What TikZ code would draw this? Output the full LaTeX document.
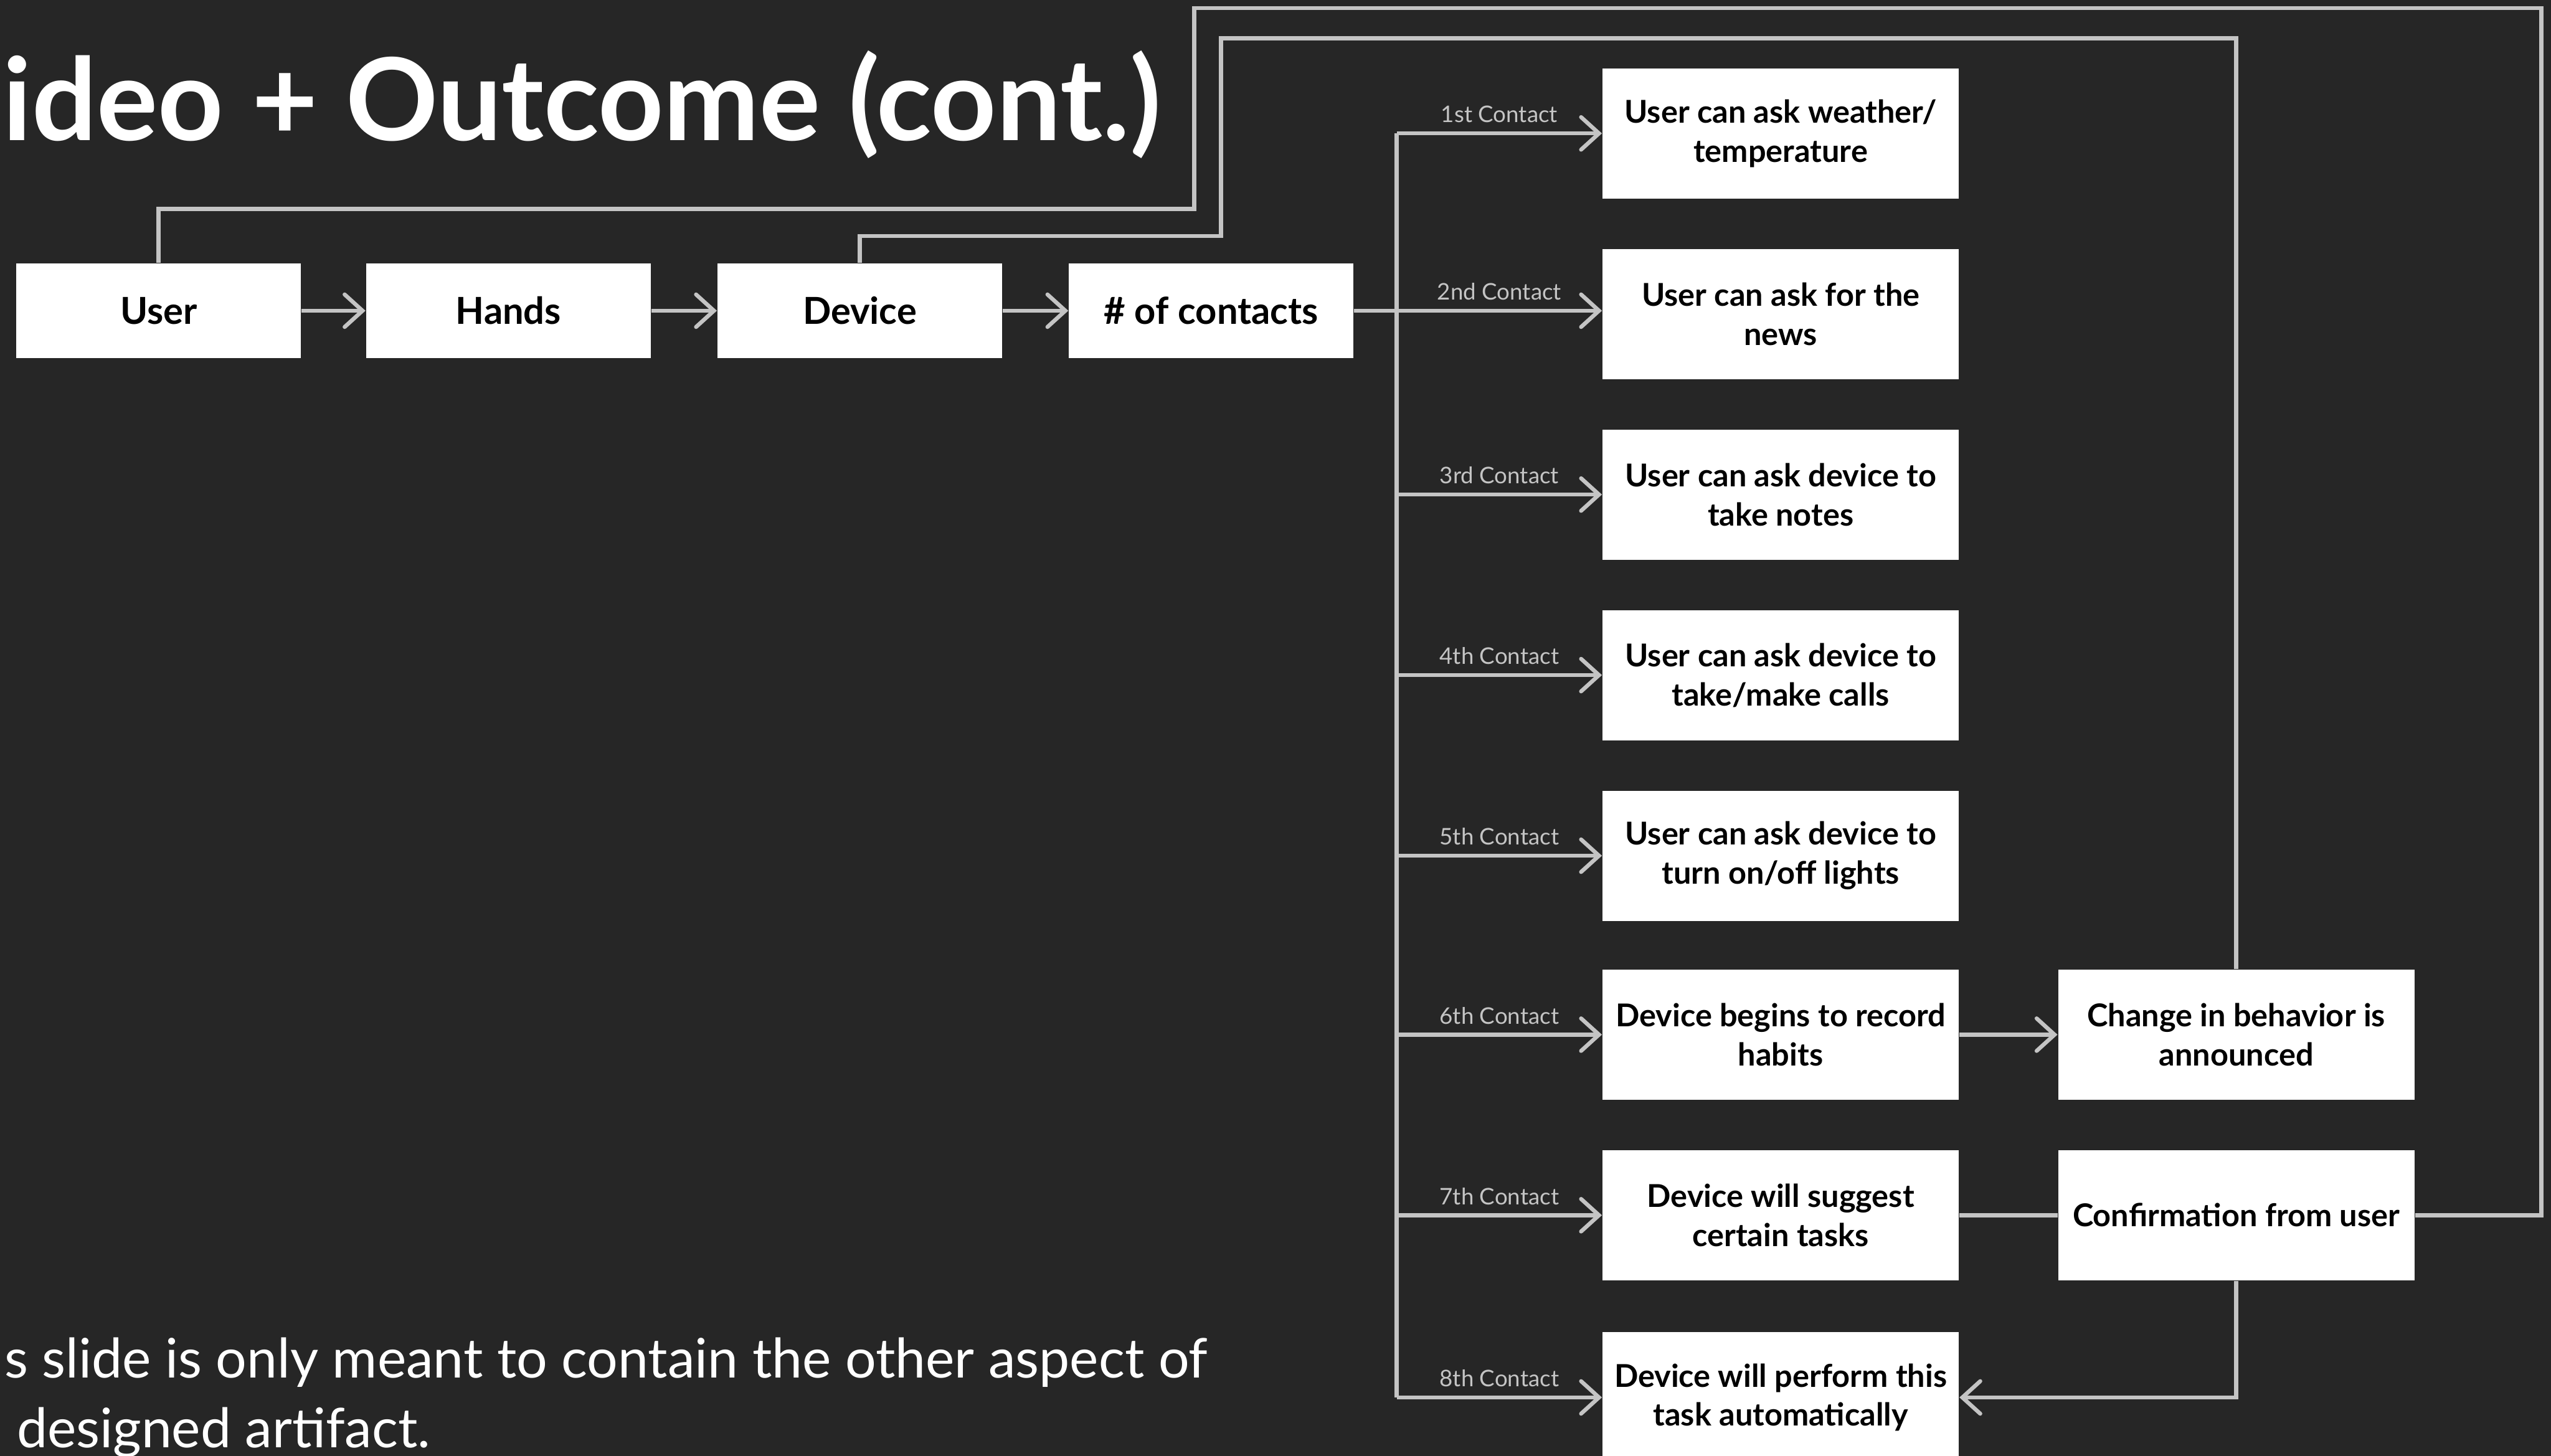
\documentclass[tikz,border=0pt]{standalone}
\usepackage{fontspec}
\setmainfont{Lato}
\usetikzlibrary{arrows.meta}
\definecolor{slidebg}{HTML}{262626}
\definecolor{wire}{HTML}{C4C4C4}

\tikzset{
  box/.style={rectangle, fill=white, text=black, align=center, inner sep=0pt,
    font=\bfseries\fontsize{13}{14.5}\selectfont, minimum width=3.5cm, minimum height=1.16cm},
  bigbox/.style={box, font=\bfseries\fontsize{11}{13.7}\selectfont, minimum width=4.38cm, minimum height=1.6cm},
  link/.style={draw=wire, line width=1.4pt},
  contact/.style={midway, above, inner sep=3pt, text=wire, font=\fontsize{8}{9}\selectfont},
  slidetext/.style={anchor=base west, inner sep=0pt, text=white},
}

\begin{document}
\begin{tikzpicture}[>={Straight Barb[length=0.22cm,width=0.4cm,line cap=round]}]
  \useasboundingbox (0,0) rectangle (31.36,-17.9);
  \fill[slidebg] (0,0) rectangle (31.36,-17.9);

  \node[slidetext, font=\bfseries\fontsize{40}{46}\selectfont] (title) at (0.03,-1.73) {ideo + Outcome (cont.)};

  % top row
  \node[box] (user)     at ( 1.95,-3.82) {User};
  \node[box] (hands)    at ( 6.25,-3.82) {Hands};
  \node[box] (device)   at (10.57,-3.82) {Device};
  \node[box] (contacts) at (14.89,-3.82) {\# of contacts};
  \draw[link,->] (user) -- (hands);
  \draw[link,->] (hands) -- (device);
  \draw[link,->] (device) -- (contacts);

  % one box per contact
  \node[bigbox] (c1) at (21.89, -1.64) {User can ask weather/\\temperature};
  \node[bigbox] (c2) at (21.89, -3.86) {User can ask for the\\news};
  \node[bigbox] (c3) at (21.89, -6.08) {User can ask device to\\take notes};
  \node[bigbox] (c4) at (21.89, -8.30) {User can ask device to\\take/make calls};
  \node[bigbox] (c5) at (21.89,-10.52) {User can ask device to\\turn on/off lights};
  \node[bigbox] (c6) at (21.89,-12.72) {Device begins to record\\habits};
  \node[bigbox] (c7) at (21.89,-14.94) {Device will suggest\\certain tasks};
  \node[bigbox] (c8) at (21.89,-17.18) {Device will perform this\\task automatically};
  \node[bigbox] (change)  at (27.49,-12.72) {Change in behavior is\\announced};
  \node[bigbox] (confirm) at (27.49,-14.94) {Confirmation from user};

  % trunk from # of contacts
  \coordinate (split) at (17.17,-3.82);
  \draw[link] (contacts) -- (split);
  \draw[link] (split |- c1) -- (split |- c8);
  \draw[link,->] (split |- c1) -- (c1.west) node[contact] {1st Contact};
  \draw[link,->] (split) -- (c2.west |- split) node[contact] {2nd Contact};
  \draw[link,->] (split |- c3) -- (c3.west) node[contact] {3rd Contact};
  \draw[link,->] (split |- c4) -- (c4.west) node[contact] {4th Contact};
  \draw[link,->] (split |- c5) -- (c5.west) node[contact] {5th Contact};
  \draw[link,->] (split |- c6) -- (c6.west) node[contact] {6th Contact};
  \draw[link,->] (split |- c7) -- (c7.west) node[contact] {7th Contact};
  \draw[link,->] (split |- c8) -- (c8.west) node[contact] {8th Contact};

  \draw[link,->] (c6) -- (change);
  \draw[link] (c7) -- (confirm);
  \draw[link,->] (confirm.south) |- (c8.east);

  % feedback loops back to the top row
  \coordinate (outerNE) at (31.24,-0.1);
  \coordinate (outerSW) at (14.68,-2.57);
  \draw[link] (confirm.east) -| (outerNE) -| (outerSW) -| (user.north);
  \coordinate (innerNW) at (15.01,-0.47);
  \coordinate (innerSW) at (15.01,-2.90);
  \draw[link] (change.north) |- (innerNW) -- (innerSW) -| (device.north);

  \node[slidetext, font=\fontsize{19.1}{24.5}\selectfont] (note1) at (0.05,-16.94) {s slide is only meant to contain the other aspect of};
  \node[slidetext, font=\fontsize{19.1}{24.5}\selectfont] (note2) at (0.20,-17.80) {designed artifact.};
\end{tikzpicture}
\end{document}
